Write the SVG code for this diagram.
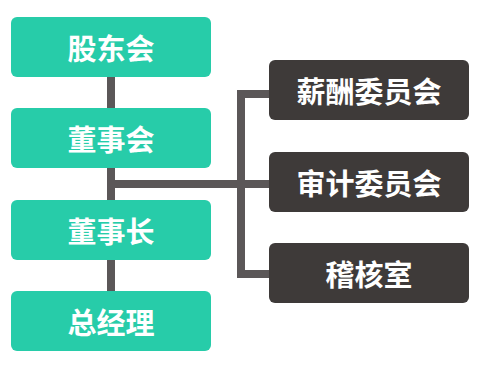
<svg xmlns="http://www.w3.org/2000/svg" width="480" height="380" viewBox="0 0 480 380">
<style>
.g{fill:#27cca9}
.d{fill:#3e3a39}
.t{fill:#fff;font-family:"Noto Sans CJK SC","Noto Sans",sans-serif;font-weight:bold;font-size:29px;text-anchor:middle;dominant-baseline:central}
.c{stroke:#5b5758;stroke-width:8;fill:none}
</style>
<rect width="480" height="380" fill="#fff"/>
<g id="connectors">
<line class="c" x1="111" y1="77" x2="111" y2="291"/>
<line class="c" x1="111" y1="184" x2="269" y2="184"/>
<polyline class="c" points="269,94 241,94 241,274 269,274"/>
</g>
<g id="n1"><rect class="g" x="11" y="17" width="200" height="60" rx="6"/><text class="t" x="111" y="47">股东会</text></g>
<g id="n2"><rect class="g" x="11" y="108" width="200" height="60" rx="6"/><text class="t" x="111" y="138">董事会</text></g>
<g id="n3"><rect class="g" x="11" y="200" width="200" height="60" rx="6"/><text class="t" x="111" y="230">董事长</text></g>
<g id="n4"><rect class="g" x="11" y="291" width="200" height="60" rx="6"/><text class="t" x="111" y="321">总经理</text></g>
<g id="n5"><rect class="d" x="269" y="60" width="200" height="60" rx="6"/><text class="t" x="369" y="90">薪酬委员会</text></g>
<g id="n6"><rect class="d" x="269" y="152" width="200" height="60" rx="6"/><text class="t" x="369" y="182">审计委员会</text></g>
<g id="n7"><rect class="d" x="269" y="243" width="200" height="60" rx="6"/><text class="t" x="369" y="273">稽核室</text></g>
</svg>
